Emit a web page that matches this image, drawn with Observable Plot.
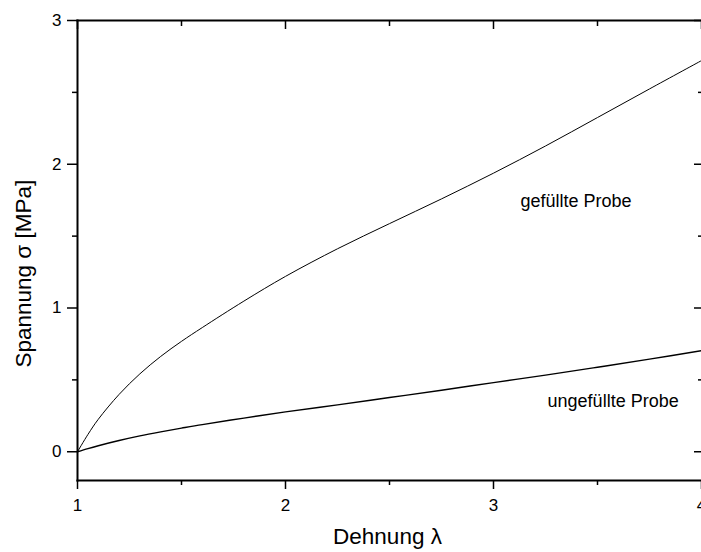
<!DOCTYPE html>
<html>
<head>
<meta charset="utf-8">
<script src="https://cdn.jsdelivr.net/npm/d3@7"></script>
<script src="https://cdn.jsdelivr.net/npm/@observablehq/plot@0.6"></script>
<style>
  html, body { margin: 0; padding: 0; background: #fff; }
</style>
</head>
<body>
<div id="chart"></div>
<script>
// Dehnung λ (stretch ratio)
const lambda = [1, 1.05, 1.1, 1.2, 1.3, 1.4, 1.5, 1.6, 1.8, 2.0, 2.25, 2.5, 2.75, 3.0, 3.25, 3.5, 3.75, 4.0];
// Spannung σ [MPa], gefüllte Probe
const sigmaFilled = [0, 0.120, 0.226, 0.399, 0.542, 0.663, 0.768, 0.864, 1.048, 1.220, 1.412, 1.587, 1.759, 1.938, 2.127, 2.325, 2.524, 2.721];
// Spannung σ [MPa], ungefüllte Probe
const sigmaUnfilled = [0, 0.022, 0.042, 0.078, 0.110, 0.138, 0.164, 0.189, 0.234, 0.277, 0.326, 0.377, 0.428, 0.481, 0.533, 0.588, 0.644, 0.703];

const xMajorTicks = [1, 2, 3, 4];
const xMinorTicks = [1.5, 2.5, 3.5];
const yMajorTicks = [0, 1, 2, 3];
const yMinorTicks = [0.5, 1.5, 2.5];

const xLabel = "Dehnung λ";
const yLabel = "Spannung σ [MPa]";
const labelFilled = "gefüllte Probe";
const labelUnfilled = "ungefüllte Probe";

const filled = lambda.map((l, i) => ({lambda: l, sigma: sigmaFilled[i]}));
const unfilled = lambda.map((l, i) => ({lambda: l, sigma: sigmaUnfilled[i]}));

const tickW = 1.5;
const fmt = d3.format("d");

const chart = Plot.plot({
  width: 701,
  height: 552,
  marginLeft: 77,
  marginRight: 0,
  marginTop: 20,
  marginBottom: 72,
  style: {fontFamily: "'Liberation Sans', Arial, sans-serif", background: "#fff", color: "#000"},
  x: {domain: [1, 4], axis: null},
  y: {domain: [-0.2, 3], axis: null},
  marks: [
    // curves
    Plot.line(filled, {x: "lambda", y: "sigma", stroke: "#000", strokeWidth: 1, curve: "catmull-rom"}),
    Plot.line(unfilled, {x: "lambda", y: "sigma", stroke: "#000", strokeWidth: 1.4, curve: "catmull-rom"}),
    // frame (left, top, bottom)
    Plot.frame({anchor: "left", stroke: "#000", strokeWidth: 2}),
    Plot.frame({anchor: "top", stroke: "#000", strokeWidth: 2}),
    Plot.frame({anchor: "bottom", stroke: "#000", strokeWidth: 2}),
    // bottom axis
    Plot.axisX({anchor: "bottom", ticks: xMajorTicks, tickFormat: fmt, tickSize: 9, tickPadding: 9, fontSize: 17, strokeWidth: tickW, label: null}),
    Plot.axisX({anchor: "bottom", ticks: xMinorTicks, tickSize: 5, strokeWidth: tickW, fill: "none", label: null}),
    // top axis (inward)
    Plot.axisX({anchor: "top", ticks: xMajorTicks, tickSize: -8, strokeWidth: tickW, fill: "none", label: null}),
    Plot.axisX({anchor: "top", ticks: xMinorTicks, tickSize: -5, strokeWidth: tickW, fill: "none", label: null}),
    // left axis
    Plot.axisY({anchor: "left", ticks: yMajorTicks, tickFormat: fmt, tickSize: 10, tickPadding: 6, fontSize: 17, strokeWidth: tickW, label: null}),
    Plot.axisY({anchor: "left", ticks: yMinorTicks, tickSize: 5, strokeWidth: tickW, fill: "none", label: null}),
    // right axis (inward)
    Plot.axisY({anchor: "right", ticks: yMajorTicks, tickSize: -8, strokeWidth: tickW, fill: "none", label: null}),
    Plot.axisY({anchor: "right", ticks: yMinorTicks, tickSize: -4, strokeWidth: tickW, fill: "none", label: null}),
    // axis labels
    Plot.text([xLabel], {frameAnchor: "bottom", textAnchor: "middle", dx: -2, dy: 63, lineAnchor: "bottom", fontSize: 22.5, fill: "#000"}),
    Plot.text([yLabel], {frameAnchor: "left", textAnchor: "start", dx: -47, dy: 117, rotate: -90, lineAnchor: "bottom", fontSize: 22.5, fill: "#000"}),
    // annotations
    Plot.text([labelFilled], {x: 3.13, y: 1.705, textAnchor: "start", lineAnchor: "bottom", fontSize: 18, fill: "#000"}),
    Plot.text([labelUnfilled], {x: 3.26, y: 0.313, textAnchor: "start", lineAnchor: "bottom", fontSize: 18, fill: "#000"})
  ]
});

document.getElementById("chart").appendChild(chart);
</script>
</body>
</html>
